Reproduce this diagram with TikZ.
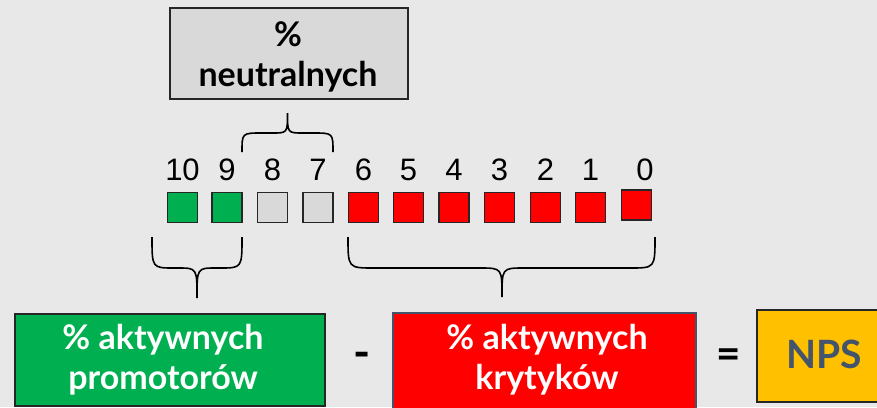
\documentclass[tikz,border=0pt]{standalone}
\usepackage{fontspec}
\setmainfont{Lato}
\newfontfamily\digitfont{Liberation Sans}
\definecolor{bgc}{HTML}{E8E8E8}
\definecolor{promog}{HTML}{00B050}
\definecolor{neutg}{HTML}{D9D9D9}
\definecolor{critr}{HTML}{FF0000}
\definecolor{npsy}{HTML}{FFC000}
\definecolor{slate}{HTML}{44546A}
\definecolor{edge}{HTML}{262626}
\begin{document}
\begin{tikzpicture}[x=1pt,y=-1pt,
  score/.style={draw=edge,line width=1.6pt,minimum width=30pt,minimum height=30pt,inner sep=0pt},
  num/.style={font=\digitfont\fontsize{31}{31}\selectfont,anchor=base,inner sep=0pt},
  bigbox/.style={draw=edge,line width=1.6pt,inner sep=0pt},
  boxtext/.style={font=\bfseries\fontsize{34}{40}\selectfont,align=center,inner sep=0pt},
  brace/.style={line width=1.6pt,draw=black}]
\fill[bgc] (0,0) rectangle (877,407);
\useasboundingbox (0,0) rectangle (877,407);

% score scale 10..0
\foreach \v/\x/\c in {10/182.5/promog,9/227/promog,8/272.5/neutg,7/318/neutg,6/363.5/critr,5/408.5/critr,4/454/critr,3/499.5/critr,2/545.5/critr,1/590.5/critr}{
  \node[score,fill=\c] (s\v) at (\x,207.5) {};
  \node[num] (n\v) at (\x,180) {\v};
}
\node[score,fill=critr] (s0) at (636.5,205) {};
\node[num] (n0) at (645,180) {0};

% neutral group
\node[bigbox,fill=neutg,minimum width=238pt,minimum height=91pt] (neutral) at (289,53.5) {};
\node[boxtext,text=black] (neutrallabel) at (288,57) {\%\\neutralnych};
\coordinate (tbl) at (242,152);
\coordinate (tbr) at (333,152);
\coordinate (tbtip) at (287.5,113);
\draw[brace] (tbl) .. controls (242,133) .. (262,133) -- (272,133)
  .. controls (287.5,133) .. (tbtip)
  .. controls (287.5,133) .. (303,133) -- (313,133)
  .. controls (333,133) .. (tbr);

% promoters brace
\coordinate (pbl) at (152,237);
\coordinate (pbr) at (242,237);
\coordinate (pbtip) at (197,298);
\draw[brace] (pbl) .. controls (152,268) .. (174,268) -- (178,268)
  .. controls (197,268) .. (pbtip)
  .. controls (197,268) .. (216,268) -- (220,268)
  .. controls (242,268) .. (pbr);

% critics brace
\coordinate (cbl) at (348,237);
\coordinate (cbr) at (655,237);
\coordinate (cbtip) at (502,297);
\draw[brace] (cbl) .. controls (348,268) .. (374,268) -- (480,268)
  .. controls (502,268) .. (cbtip)
  .. controls (502,268) .. (524,268) -- (630,268)
  .. controls (655,268) .. (cbr);

% formula row
\node[bigbox,fill=promog,minimum width=310pt,minimum height=92pt] (promo) at (170,360) {};
\node[boxtext,text=white] (promolabel) at (163,360) {\% aktywnych\\promotorów};
\node[font=\bfseries\fontsize{46}{46}\selectfont,inner sep=0pt] (minus) at (362,360) {-};
\node[bigbox,draw=slate,fill=critr,minimum width=303pt,minimum height=96pt] (critic) at (544.5,361) {};
\node[boxtext,text=white] (criticlabel) at (547,360) {\% aktywnych\\krytyków};
\node[font=\bfseries\fontsize{42}{42}\selectfont,inner sep=0pt] (equals) at (729,359) {=};
\node[bigbox,fill=npsy,minimum width=121pt,minimum height=92pt,anchor=north west] (nps) at (756,309) {};
\node[font=\bfseries\fontsize{39}{39}\selectfont,text=slate,inner sep=0pt] (npslabel) at (824,354) {NPS};
\end{tikzpicture}
\end{document}
